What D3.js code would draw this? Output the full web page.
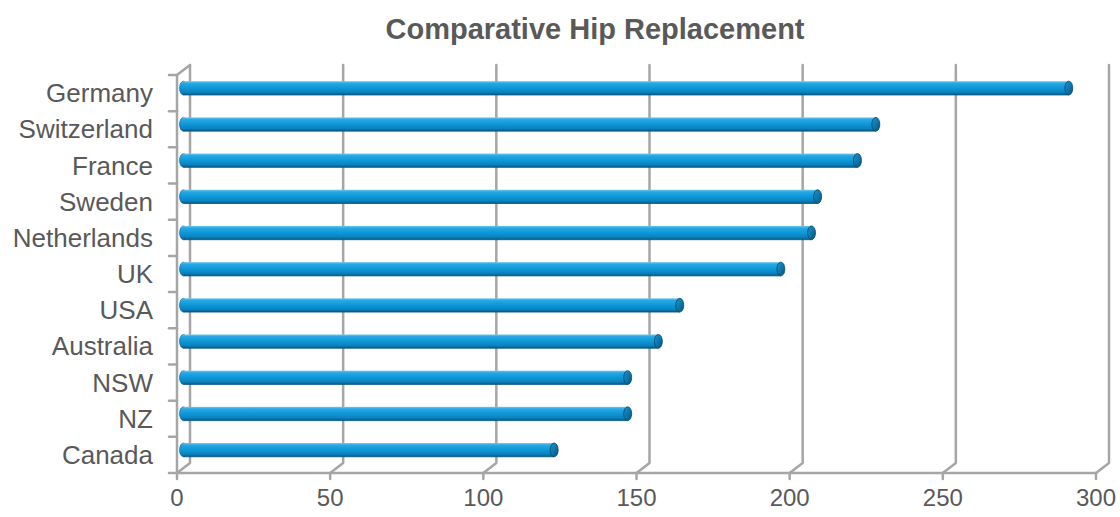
<!DOCTYPE html>
<html>
<head>
<meta charset="utf-8">
<script src="https://cdn.jsdelivr.net/npm/d3@7"></script>
<style>
  html, body { margin: 0; padding: 0; background: #fff; }
  svg { display: block; }
</style>
</head>
<body>
<svg id="chart" width="1120" height="517"></svg>
<script>
// Hip replacement rates by country
const categories = ["Germany", "Switzerland", "France", "Sweden", "Netherlands", "UK", "USA", "Australia", "NSW", "NZ", "Canada"];
const values = [289, 226, 220, 207, 205, 195, 162, 155, 145, 145, 121];
const xTicks = [0, 50, 100, 150, 200, 250, 300];
const titleText = "Comparative Hip Replacement";

const svg = d3.select("#chart");

// front plane of the 3-D plot box and the depth offset to the back wall
const plot = { left: 177, right: 1096, top: 75, bottom: 473 };
const depth = { dx: 13, dy: -10 };

const x = d3.scaleLinear().domain([0, 300]).range([plot.left, plot.right]);
const y = d3.scaleBand().domain(categories).range([plot.top, plot.bottom]).padding(0);

const gridColor = "#a6a6a6";
const textColor = "#595959";
const font = "Liberation Sans, Arial, sans-serif";

// gradients for the cylinder bars
const defs = svg.append("defs");
const body = defs.append("linearGradient").attr("id", "barBody")
  .attr("x1", 0).attr("y1", 0).attr("x2", 0).attr("y2", 1);
[["0%", "#6cc8f0"], ["15%", "#28a8e4"], ["50%", "#0e97d8"], ["80%", "#0b82bf"], ["100%", "#065b88"]]
  .forEach(([o, c]) => body.append("stop").attr("offset", o).attr("stop-color", c));
const cap = defs.append("linearGradient").attr("id", "barCap")
  .attr("x1", 0).attr("y1", 0).attr("x2", 1).attr("y2", 1);
[["0%", "#1c93cc"], ["55%", "#0c74a8"], ["100%", "#064f78"]]
  .forEach(([o, c]) => cap.append("stop").attr("offset", o).attr("stop-color", c));

// title
svg.append("text")
  .attr("x", 595).attr("y", 39)
  .attr("text-anchor", "middle")
  .attr("font-family", font)
  .attr("font-weight", "bold")
  .attr("font-size", 29)
  .attr("fill", textColor)
  .text(titleText);

const grid = svg.append("g")
  .attr("stroke", gridColor).attr("stroke-width", 2.5).attr("fill", "none")
  .attr("stroke-linecap", "round").attr("stroke-linejoin", "round");

// back-wall gridlines with their floor diagonals
xTicks.forEach(v => {
  const xf = x(v), xb = x(v) + depth.dx;
  grid.append("path")
    .attr("d", `M${xb},${plot.top + depth.dy}V${plot.bottom + depth.dy}L${xf},${plot.bottom}`);
});

// front floor edge and ticks
grid.append("path").attr("d", `M${plot.left},${plot.bottom}H${plot.right}`);
xTicks.forEach(v => {
  grid.append("path").attr("d", `M${x(v)},${plot.bottom}v6`);
});

// left side wall: front edge, top diagonal, category ticks
grid.append("path")
  .attr("d", `M${plot.left},${plot.bottom}V${plot.top}L${plot.left + depth.dx},${plot.top + depth.dy}`);
const catEdges = categories.map(c => y(c)).concat([plot.bottom]);
catEdges.forEach(yy => {
  grid.append("path").attr("d", `M${plot.left - 8},${yy}H${plot.left}`);
});

// cylinder bars, sitting halfway into the depth
const barH = y.bandwidth() * 0.38;
const midDx = depth.dx / 2, midDy = depth.dy / 2;
const capRx = 4;
const bars = svg.append("g").selectAll("g").data(categories).join("g")
  .attr("transform", d => `translate(0,${y(d) + y.bandwidth() / 2 + midDy - barH / 2})`);

bars.append("ellipse")
  .attr("cx", x(0) + midDx).attr("cy", barH / 2)
  .attr("rx", capRx).attr("ry", barH / 2)
  .attr("fill", "url(#barBody)")
  .attr("stroke", "#0a5f8c").attr("stroke-width", 0.6);

bars.append("rect")
  .attr("x", x(0) + midDx)
  .attr("y", 0)
  .attr("width", (d, i) => x(values[i]) - x(0))
  .attr("height", barH)
  .attr("fill", "url(#barBody)");

// thin dark edge along the underside
bars.append("path")
  .attr("d", (d, i) => `M${x(0) + midDx},${barH}H${x(values[i]) + midDx}`)
  .attr("stroke", "#08557e").attr("stroke-width", 0.8);

bars.append("ellipse")
  .attr("cx", (d, i) => x(values[i]) + midDx)
  .attr("cy", barH / 2)
  .attr("rx", capRx).attr("ry", barH / 2)
  .attr("fill", "url(#barCap)")
  .attr("stroke", "#05476b").attr("stroke-width", 0.8);

// category labels
svg.append("g").selectAll("text").data(categories).join("text")
  .attr("x", 153)
  .attr("y", d => y(d) + y.bandwidth() / 2)
  .attr("dy", "0.35em")
  .attr("text-anchor", "end")
  .attr("font-family", font)
  .attr("font-size", 26)
  .attr("fill", textColor)
  .text(d => d);

// value axis labels
svg.append("g").selectAll("text").data(xTicks).join("text")
  .attr("x", d => x(d))
  .attr("y", 506)
  .attr("text-anchor", "middle")
  .attr("font-family", font)
  .attr("font-size", 24)
  .attr("fill", textColor)
  .text(d => d);
</script>
</body>
</html>
